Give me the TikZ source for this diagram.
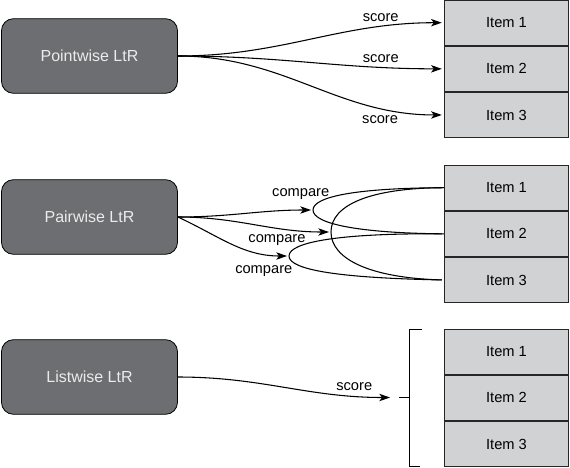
\documentclass[tikz,border=0pt]{standalone}
\usepackage{fontspec}
\setmainfont{Liberation Sans}
\usetikzlibrary{positioning,arrows.meta}
\definecolor{boxgray}{RGB}{109,110,113}
\definecolor{itemgray}{RGB}{209,210,212}

\begin{document}
\begin{tikzpicture}[x=0.75pt,y=-0.75pt,->,>={Stealth[length=8pt,width=5.5pt,inset=2pt]},
            shorten >=1.5pt,line width=0.8pt,node distance=0pt,
            font=\fontsize{11}{13}\selectfont,
            ltr node/.style={rectangle,rounded corners=9pt,draw=black,fill=boxgray,
                text=white!92!black,minimum width=132pt,minimum height=56pt,line width=0.6pt,
                font=\fontsize{12}{14}\selectfont},
            item node/.style={rectangle,draw=black!85,fill=itemgray,
                minimum width=93.5pt,minimum height=34pt,line width=0.6pt}]

        \useasboundingbox (0,0) rectangle (570,467);

        % Define boxes
        \node[ltr node] (pw) at (89.5,56) {Pointwise LtR};
        \node[ltr node] (pa) at (89.5,217) {Pairwise LtR};
        \node[ltr node] (lw) at (89.5,377) {Listwise LtR};

        % Define items
        \node[item node] (p1) at (506.5,22.7) {Item 1};
        \node[item node] (p2) [below=of p1] {Item 2};
        \node[item node] (p3) [below=of p2] {Item 3};
        \node[item node] (q1) at (506.5,187.7) {Item 1};
        \node[item node] (q2) [below=of q1] {Item 2};
        \node[item node] (q3) [below=of q2] {Item 3};
        \node[item node] (l1) at (506.5,351.7) {Item 1};
        \node[item node] (l2) [below=of l1] {Item 2};
        \node[item node] (l3) [below=of l2] {Item 3};

        % Define comparison points
        \coordinate (vA) at (313,210);
        \coordinate (vB) at (331,232);
        \coordinate (vC) at (289,256);
        \coordinate (lt) at (392,397.5);

        % Draw edges
        \path[every node/.style={font=\fontsize{11}{13}\selectfont}]
            (pw.east) edge[out=0,in=180] node[pos=0.78,above] {score} (p1.west)
            (pw.east) edge[out=0,in=180] node[pos=0.78,above] {score} (p2.west)
            (pw.east) edge[out=0,in=180] node[pos=0.78,below=2pt] {score} (p3.west)
            (pa.east) edge[out=0,in=180] node[pos=0.92,above=4pt] {compare} (vA)
            (pa.east) edge[out=0,in=180] node[pos=0.66,below=1.5pt] {compare} (vB)
            (pa.east) edge[out=-25,in=180] node[pos=0.8,below=5pt] {compare} (vC)
            (lw.east) edge[out=0,in=180] node[pos=0.84,above] {score} (lt);

        % Draw pairs
        \draw[-] (q1.west) .. controls (360,188) and (313,196) .. (vA)
            .. controls (313,224) and (360,233) .. (q2.west);
        \draw[-] (q1.west) .. controls (370,188) and (331,205) .. (vB)
            .. controls (331,259) and (370,278) .. (q3.west);
        \draw[-] (q2.west) .. controls (340,233) and (289,242) .. (vC)
            .. controls (289,270) and (340,278) .. (q3.west);

        % Draw bracket
        \draw[-,line width=0.6pt] (422,329.5) -- (409,329.5) -- (409,466) -- (422,466);
        \draw[-,line width=0.6pt] (409,397.5) -- (397,397.5);

        \end{tikzpicture}
\end{document}
